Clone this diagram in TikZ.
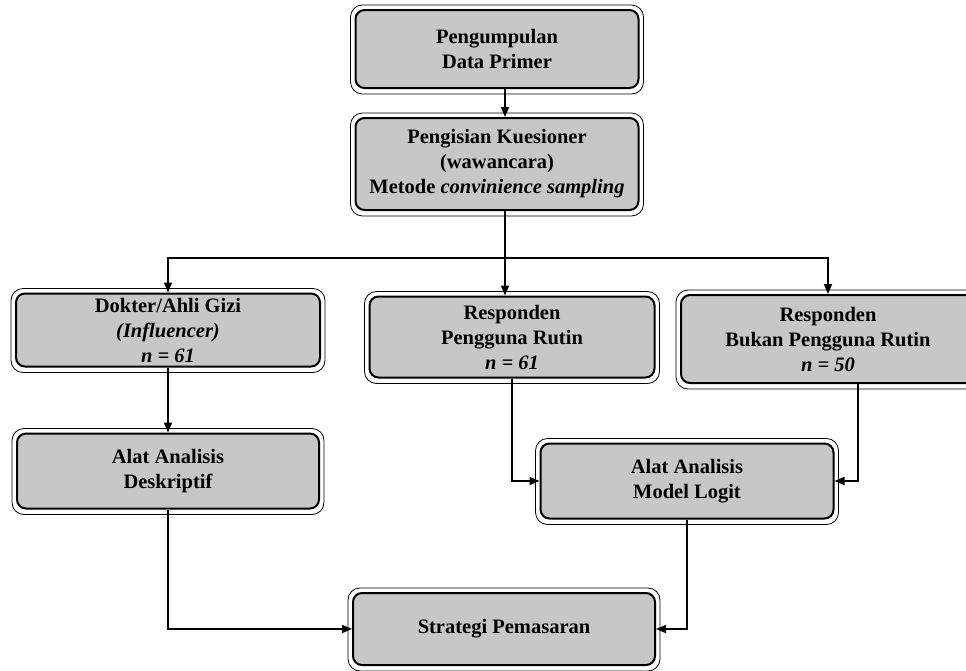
\documentclass[tikz,border=0pt]{standalone}
\usepackage{fontspec}
\setmainfont{Liberation Serif}
\usetikzlibrary{arrows.meta,calc}
\begin{document}
\begin{tikzpicture}[x=1pt,y=-1pt,
  box/.style={draw=black, line width=2pt, rounded corners=9pt, fill=black!22, align=center, inner sep=0pt, font=\fontsize{20.5}{25}\selectfont\bfseries},
  frame/.style={line width=0.8pt, rounded corners=12pt},
  conn/.style={line width=1.6pt, -{Triangle[length=10pt,width=8pt]}},
  plain/.style={line width=1.6pt}]
\useasboundingbox (0,0) rectangle (966,670);
\clip (0,0) rectangle (966,670);
\node[box, minimum width=283pt, minimum height=78pt] (b1) at (497,49) {Pengumpulan\\Data Primer};
\node[box, minimum width=283pt, minimum height=92pt] (b2) at (497,164) {Pengisian Kuesioner\\(wawancara)\\Metode \textit{convinience sampling}};
\node[box, minimum width=304pt, minimum height=73pt] (b3) at (168,330) {Dokter/Ahli Gizi\\\textit{(Influencer)}\\\textit{n = 61}};
\node[box, minimum width=285pt, minimum height=81pt] (b4) at (512,337) {Responden\\Pengguna Rutin\\\textit{n = 61}};
\node[box, minimum width=294pt, minimum height=88pt] (b5) at (828,339) {Responden\\Bukan Pengguna Rutin\\\textit{n = 50}};
\node[box, minimum width=302pt, minimum height=75pt] (b6) at (168,471) {Alat Analisis\\Deskriptif};
\node[box, minimum width=293pt, minimum height=75pt] (b7) at (687,481) {Alat Analisis\\Model Logit};
\node[box, minimum width=302pt, minimum height=72pt] (b8) at (504,629) {Strategi Pemasaran};
\foreach \n in {b1,b2,b3,b4,b5,b6,b7,b8}
  \draw[frame] ($(\n.north west)+(-4,-4)$) rectangle ($(\n.south east)+(4,5)$);
\coordinate (br) at (505,258);
\draw[conn] ([xshift=8pt]b1.south) -- ([xshift=8pt]b2.north);
\draw[plain] ([xshift=8pt]b2.south) -- (br);
\draw[conn] (br) -- (br |- b4.north);
\draw[conn] (br) -| (b3.north);
\draw[conn] (br) -| (b5.north);
\draw[conn] (b3.south) -- (b6.north);
\draw[conn] (b4.south) |- (b7.west);
\draw[conn] ([xshift=30pt]b5.south) |- (b7.east);
\draw[conn] (b6.south) |- (b8.west);
\draw[conn] (b7.south) |- (b8.east);
\end{tikzpicture}
\end{document}
